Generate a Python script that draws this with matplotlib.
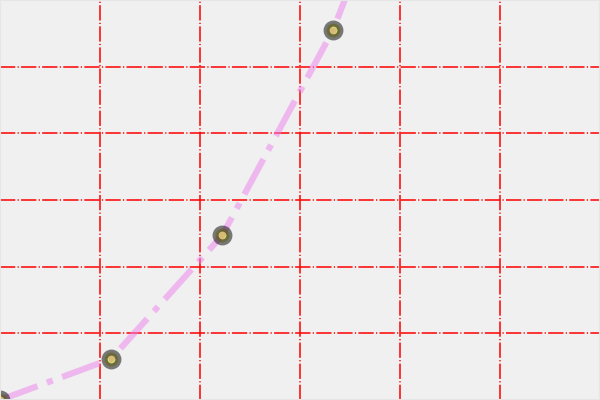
import matplotlib
matplotlib.use("Agg")
import matplotlib.pyplot as plt

x_values = [0.0, 1.111, 2.222, 3.333, 4.444, 5.556, 6.667, 7.778, 8.889, 10.0]
y_values = [0.0, 0.617, 2.469, 5.556, 9.877, 15.432, 22.222, 30.247, 39.506, 50.0]
x_ticks = [0, 1, 2, 3, 4, 5, 6]
y_ticks = [0, 1, 2, 3, 4, 5, 6]

fig = plt.figure(figsize=(6, 4), dpi=100, facecolor="#f0f0f0")
ax = fig.add_axes([0, 0, 1, 1])
ax.set_facecolor("#f0f0f0")

ax.plot(x_values, y_values, color="violet", linestyle="-.", linewidth=4.5,
        marker="o", markersize=10, markeredgewidth=4.3,
        markerfacecolor="y", markeredgecolor="k", alpha=0.5, clip_on=True)

ax.set_xlim(0, 6)
ax.set_ylim(0, 6)
ax.set_xticks(x_ticks)
ax.set_yticks(y_ticks)
ax.tick_params(length=0, labelbottom=False, labelleft=False)
ax.grid(True, color="red", linestyle=(0, (10, 1.5, 0.8, 1.5)), linewidth=1.1)
ax.set_axisbelow(True)
for s in ax.spines.values():
    s.set_color("#e6e6e6")
    s.set_linewidth(1.5)

fig.savefig("out.png", dpi=100, facecolor=fig.get_facecolor())
